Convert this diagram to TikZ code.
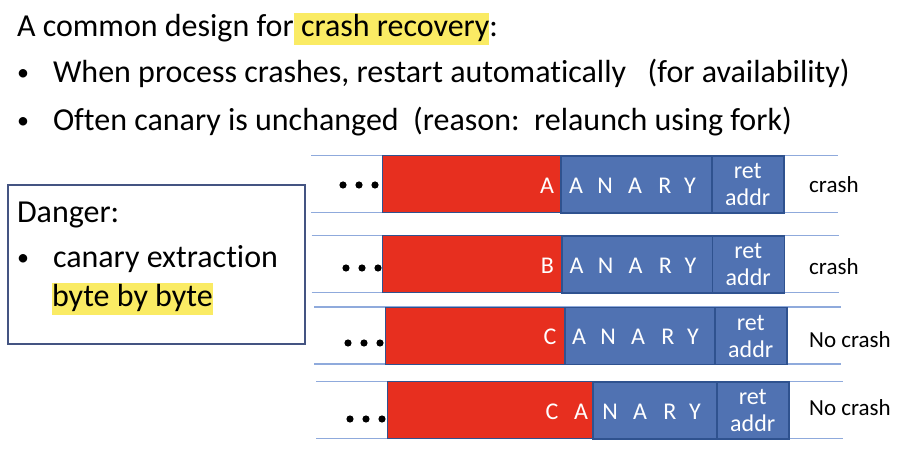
\documentclass[tikz,border=0pt]{standalone}
\usepackage{fontspec}
\setmainfont{Carlito}[Ligatures=NoCommon]
\usetikzlibrary{positioning}
\definecolor{StackRed}{RGB}{231,47,31}
\definecolor{CanaryBlue}{RGB}{80,114,178}
\definecolor{BoxEdge}{RGB}{47,82,143}
\definecolor{RowLine}{RGB}{143,170,220}
\definecolor{FrameGray}{RGB}{68,84,130}
\definecolor{MarkYellow}{RGB}{250,235,100}
\tikzset{
  txt/.style={inner sep=0, outer sep=0, font=\fontsize{32}{38}\selectfont},
  bul/.style={inner sep=0, outer sep=0, font=\fontsize{24}{28}\selectfont},
  hilite/.style={txt, fill=MarkYellow, text height=24pt, text depth=8pt},
  rowline/.style={draw=RowLine, line width=1.2pt},
  redbox/.style={fill=StackRed, draw=BoxEdge, line width=0.8pt},
  canbox/.style={fill=CanaryBlue, draw=BoxEdge, line width=1.5pt, minimum height=57pt, inner sep=0},
  retbox/.style={canbox, minimum width=72pt, text=white, align=center, font=\fontsize{24}{27}\selectfont},
  letter/.style={text=white, inner sep=0, font=\fontsize{24}{28}\selectfont},
  result/.style={inner sep=0, anchor=west, font=\fontsize{23}{27}\selectfont},
  dangerbox/.style={draw=FrameGray, line width=2pt, minimum width=297pt, minimum height=159pt, inner sep=0}
}
\begin{document}
\begin{tikzpicture}[x=1pt, y=-1pt]
  \useasboundingbox (0,0) rectangle (922,454);
  % heading and bullets
  \node[txt, anchor=base west] (head) at (17,37) {A common design for};
  \node[hilite, anchor=base west] (headmark) at (head.base east) {\hspace{0.226em}crash recovery};
  \node[txt, anchor=base west] (headcolon) at (headmark.base east) {:};
  \node[bul, anchor=base] (dotA) at (23,81) {\textbullet};
  \node[txt, anchor=base west] (lineA) at (53,83) {When process crashes, restart automatically\ \ \ (for availability)};
  \node[bul, anchor=base] (dotB) at (23,129) {\textbullet};
  \node[txt, anchor=base west] (lineB) at (53,131) {Often canary is unchanged\ \ (reason:\ \ relaunch using fork)};
  % danger box
  \node[dangerbox, anchor=north west] (danger) at (6.5,184) {};
  \node[txt, anchor=base west] (dangerhead) at (17,223) {Danger:};
  \node[bul, anchor=base] (dotC) at (23,266) {\textbullet};
  \node[txt, anchor=base west] (dangertext) at (53,268) {canary extraction};
  \node[hilite, anchor=base west] (dangermark) at (52,307) {byte by byte};
  % stack rows
  \foreach \ty/\dx/\dotx/\doty/\cut/\fl/\res/\resy [count=\n] in {
      155.5/0/343/185/560/A/crash/185,
      235.5/0.5/346/268/561/B/crash/267,
      307/3/348/343/564/C/No crash/340,
      381.5/5/350/419/592/C/No crash/408}{
    \draw[rowline] (311+\dx,\ty) -- ++(527,0) (311+\dx,\ty+57) -- ++(527,0);
    \draw[redbox] (382+\dx,\ty) rectangle (\cut,\ty+57);
    \node[canbox, anchor=north west, minimum width={(711+\dx-\cut)*1pt}] (can\n) at (\cut,\ty) {};
    \node[retbox, anchor=north west] (ret\n) at (711+\dx,\ty) {ret\\addr};
    \foreach \ch/\lx in {\fl/547,A/576,N/605,A/635,R/665,Y/690}
      \node[letter, anchor=base] (l\n-\lx) at (\lx+\dx,\ty+38) {\ch};
    \foreach \i in {0,1,2}
      \fill (\dotx+16*\i,\doty) circle[radius=3.6pt];
    \node[result] (res\n) at (809,\resy) {\res};
  }
\end{tikzpicture}
\end{document}
